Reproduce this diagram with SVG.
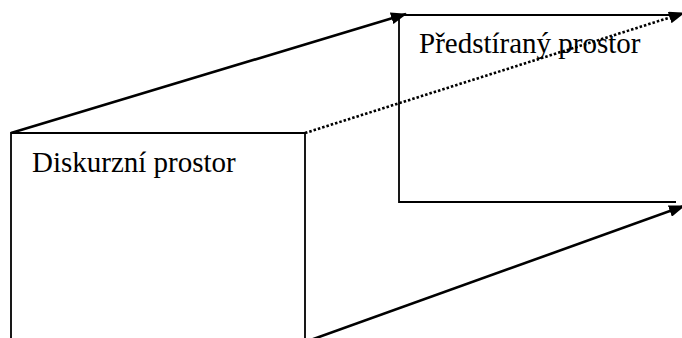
<svg xmlns="http://www.w3.org/2000/svg" width="682" height="338" viewBox="0 0 682 338">
<defs>
<marker id="ah" markerWidth="16" markerHeight="12" refX="15" refY="6" orient="auto" markerUnits="userSpaceOnUse">
<path d="M0,0 L16,6 L0,12 Z" fill="#000"/>
</marker>
<style>
.edge{fill:none;stroke:#000;stroke-width:1.8}
.conn{fill:none;stroke:#000;stroke-width:2.6}
.dot{fill:none;stroke:#000;stroke-width:2.6;stroke-dasharray:2.5 2}
.lbl{font-family:"Liberation Serif","Times New Roman",serif;font-size:29px;fill:#000}
</style>
</defs>
<rect width="682" height="338" fill="#fff"/>
<g id="back">
<path class="edge" d="M676,15 L399,15 L399,202 L676,202"/>
<text class="lbl" x="419" y="53">Předstíraný prostor</text>
</g>
<g id="front">
<path class="edge" d="M11,340 L11,133 L305,133 L305,340"/>
<text class="lbl" x="32" y="172">Diskurzní prostor</text>
</g>
<g id="connectors">
<line class="conn" x1="11" y1="133" x2="406" y2="14" marker-end="url(#ah)"/>
<line class="dot" x1="305" y1="133" x2="684" y2="13" marker-end="url(#ah)"/>
<line class="conn" x1="305" y1="342" x2="684" y2="206" marker-end="url(#ah)"/>
</g>
</svg>
